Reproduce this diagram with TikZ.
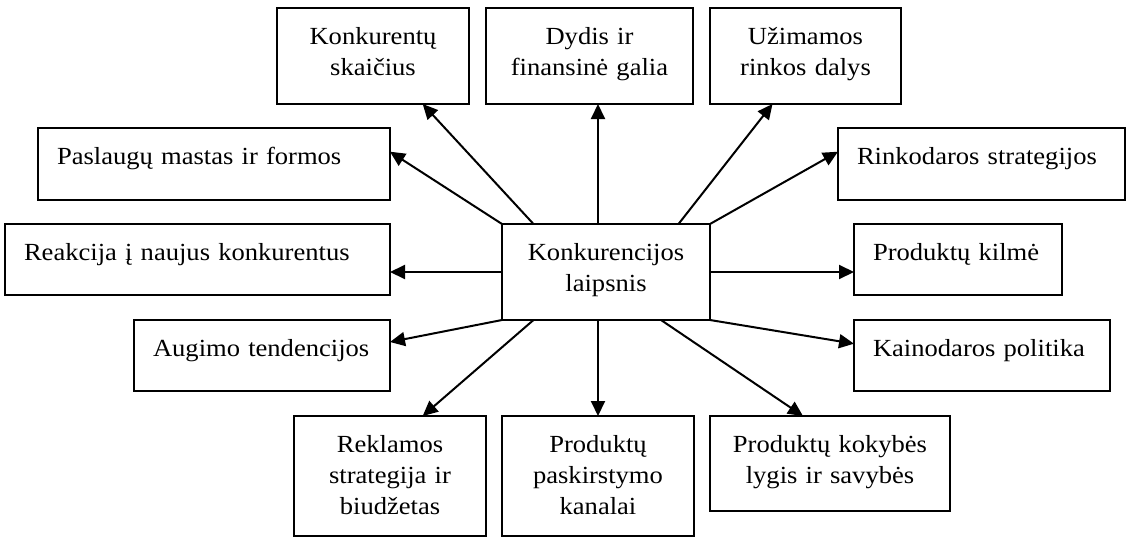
\documentclass[tikz,border=0pt]{standalone}
\usepackage{fontspec}
\setmainfont{Liberation Serif}[FakeStretch=1.08]
\usetikzlibrary{arrows.meta}
\begin{document}
\begin{tikzpicture}[x=1pt,y=-1pt,
  box/.style={draw, line width=2pt, anchor=north west, inner ysep=0pt, outer sep=0pt,
    text height=36pt, font=\fontsize{24.6}{31}\selectfont},
  cbox/.style={box, align=center, inner xsep=4pt},
  lbox/.style={box, align=left, inner xsep=19pt},
  arr/.style={line width=2pt, -{Triangle[length=15pt,width=14pt]}}]
\useasboundingbox (0,0) rectangle (1128,544);

% top row
\node[cbox, text width=184pt, text depth=60pt] (K1) at (277,8) {Konkurentų\\skaičius};
\node[cbox, text width=199pt, text depth=60pt] (K2) at (486,8) {Dydis ir\\finansinė galia};
\node[cbox, text width=183pt, text depth=60pt] (K3) at (710,8) {Užimamos\\rinkos dalys};

% left column
\node[lbox, text width=314pt, text depth=36pt] (P)  at (38,128) {Paslaugų mastas ir formos};
\node[lbox, text width=347pt, text depth=35pt] (Re) at (5,224)  {Reakcija į naujus konkurentus};
\node[lbox, text width=218pt, text depth=35pt] (A)  at (134,320) {Augimo tendencijos};

% right column
\node[lbox, text width=249pt, text depth=36pt] (R)  at (838,128) {Rinkodaros strategijos};
\node[lbox, text width=170pt, text depth=35pt] (PK) at (854,224) {Produktų kilmė};
\node[lbox, text width=218pt, text depth=35pt] (Ka) at (854,320) {Kainodaros politika};

% centre
\node[cbox, text width=200pt, text depth=60pt] (C) at (502,224) {Konkurencijos\\laipsnis};

% bottom row
\node[cbox, text width=184pt, text depth=84pt] (Rk) at (294,416) {Reklamos\\strategija ir\\biudžetas};
\node[cbox, text width=184pt, text depth=84pt] (Pa) at (502,416) {Produktų\\paskirstymo\\kanalai};
\node[cbox, text width=232pt, text depth=59pt] (Ko) at (710,416) {Produktų kokybės\\lygis ir savybės};

% connectors from the centre
\draw[arr] ([xshift=31.5pt]C.north west) -- ([xshift=145.7pt]K1.south west);
\draw[arr] ([xshift=96pt]C.north west) -- ([xshift=96pt]C.north west |- K2.south);
\draw[arr] ([xshift=176.5pt]C.north west) -- ([xshift=62.5pt]K3.south west);
\draw[arr] (C.north west) -- ([yshift=-23.7pt]P.north east);
\draw[arr] (C.west) -- (C.west -| Re.east);
\draw[arr] (C.south west) -- ([yshift=-22pt]A.north east);
\draw[arr] ([xshift=31.5pt]C.south west) -- ([xshift=128.7pt]Rk.north west);
\draw[arr] ([xshift=96pt]C.south west) -- ([xshift=96pt]C.south west |- Pa.north);
\draw[arr] ([xshift=159pt]C.south west) -- ([xshift=93pt]Ko.north west);
\draw[arr] (C.north east) -- ([yshift=-23.7pt]R.north west);
\draw[arr] (C.east) -- (C.east -| PK.west);
\draw[arr] (C.south east) -- ([yshift=-23.7pt]Ka.north west);
\end{tikzpicture}
\end{document}
